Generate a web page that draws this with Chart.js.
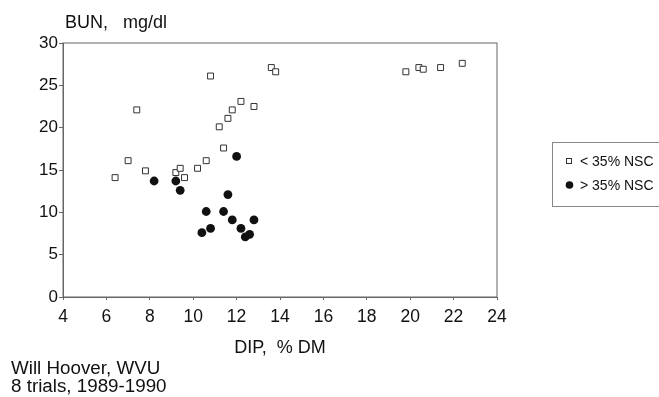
<!DOCTYPE html>
<html>
<head>
<meta charset="utf-8">
<script src="https://cdn.jsdelivr.net/npm/chart.js@4"></script>
<style>
  body { margin: 0; background: #fff; }
</style>
</head>
<body>
<canvas id="bunChart" width="659" height="397"></canvas>
<script>
  // < 35% NSC (open squares)
  const lowX = [6.4, 7.0, 7.4, 7.8, 9.2, 9.4, 9.6, 10.2, 10.6, 10.8, 11.2, 11.4, 11.6, 11.8, 12.2, 12.8, 13.6, 13.8, 19.8, 20.4, 20.6, 21.4, 22.4];
  const lowY = [14.1, 16.1, 22.1, 14.9, 14.7, 15.2, 14.1, 15.2, 16.1, 26.1, 20.1, 17.6, 21.1, 22.1, 23.1, 22.5, 27.1, 26.6, 26.6, 27.1, 26.9, 27.1, 27.6];
  // > 35% NSC (filled circles)
  const highX = [8.2, 9.2, 9.4, 10.4, 10.6, 10.8, 11.4, 11.6, 11.8, 12.0, 12.2, 12.4, 12.6, 12.8];
  const highY = [13.7, 13.7, 12.6, 7.6, 10.1, 8.1, 10.1, 12.1, 9.1, 16.6, 8.1, 7.1, 7.4, 9.1];

  const seriesNames = ['< 35% NSC', '> 35% NSC'];
  const xTicks = [4, 6, 8, 10, 12, 14, 16, 18, 20, 22, 24];
  const yTicks = [0, 5, 10, 15, 20, 25, 30];

  const toPoints = (xs, ys) => xs.map((x, i) => ({ x: x, y: ys[i] }));
  const font = 'Liberation Sans, Arial, sans-serif';
  const ink = '#111';

  const decorations = {
    id: 'decorations',
    afterDraw(chart) {
      const ctx = chart.ctx;
      const a = chart.chartArea;
      ctx.save();
      // frame around plot
      ctx.strokeStyle = '#666';
      ctx.lineWidth = 1;
      ctx.strokeRect(a.left, a.top, a.right - a.left, a.bottom - a.top);

      ctx.fillStyle = ink;
      ctx.textBaseline = 'alphabetic';
      ctx.font = '18px ' + font;
      ctx.textAlign = 'left';
      ctx.fillText('BUN,   mg/dl', 65, 28);
      ctx.textAlign = 'center';
      ctx.fillText('DIP,  % DM', (a.left + a.right) / 2, 353);
      ctx.textAlign = 'left';
      ctx.font = '18.8px ' + font;
      ctx.fillText('Will Hoover, WVU', 11, 374);
      ctx.fillText('8 trials, 1989-1990', 11, 392);

      // legend box
      ctx.strokeStyle = '#888';
      ctx.strokeRect(552.5, 142.5, 110, 64);
      ctx.font = '14px ' + font;
      ctx.fillStyle = ink;
      ctx.fillText(seriesNames[0], 580, 166);
      ctx.fillText(seriesNames[1], 580, 190);
      ctx.strokeStyle = '#333';
      ctx.strokeRect(566.5, 158.5, 5, 5);
      ctx.beginPath();
      ctx.arc(569.5, 185, 3.8, 0, Math.PI * 2);
      ctx.fillStyle = '#111';
      ctx.fill();
      ctx.restore();
    }
  };

  const config = {
    type: 'scatter',
    data: {
      datasets: [{
        label: seriesNames[0],
        data: toPoints(lowX, lowY),
        pointStyle: 'rect',
        pointRadius: 4.2,
        pointHoverRadius: 4.2,
        backgroundColor: '#fff',
        borderColor: '#333',
        borderWidth: 1
      }, {
        label: seriesNames[1],
        data: toPoints(highX, highY),
        pointStyle: 'circle',
        pointRadius: 4.4,
        pointHoverRadius: 4.4,
        backgroundColor: '#111',
        borderColor: '#111',
        borderWidth: 0
      }]
    },
    options: {
      responsive: false,
      animation: false,
      layout: { padding: { left: 0, top: 43, right: 162, bottom: 0 } },
      plugins: {
        legend: { display: false },
        tooltip: { enabled: false }
      },
      scales: {
        x: {
          type: 'linear',
          min: 4,
          max: 24,
          afterFit(scale) { scale.height = 100; },
          afterBuildTicks(scale) { scale.ticks = xTicks.map(v => ({ value: v })); },
          border: { color: '#666', width: 1 },
          grid: { drawOnChartArea: false, drawTicks: true, tickLength: 3, color: '#666' },
          ticks: { color: ink, padding: 7, font: { family: font, size: 17.5 }, maxRotation: 0 }
        },
        y: {
          type: 'linear',
          min: 0,
          max: 30,
          afterFit(scale) { scale.width = 63; },
          afterBuildTicks(scale) { scale.ticks = yTicks.map(v => ({ value: v })); },
          border: { color: '#666', width: 1 },
          grid: { drawOnChartArea: false, drawTicks: true, tickLength: 4, color: '#666' },
          ticks: { color: ink, padding: 1, font: { family: font, size: 17 } }
        }
      }
    },
    plugins: [decorations]
  };

  new Chart(document.getElementById('bunChart'), config);
</script>
</body>
</html>
